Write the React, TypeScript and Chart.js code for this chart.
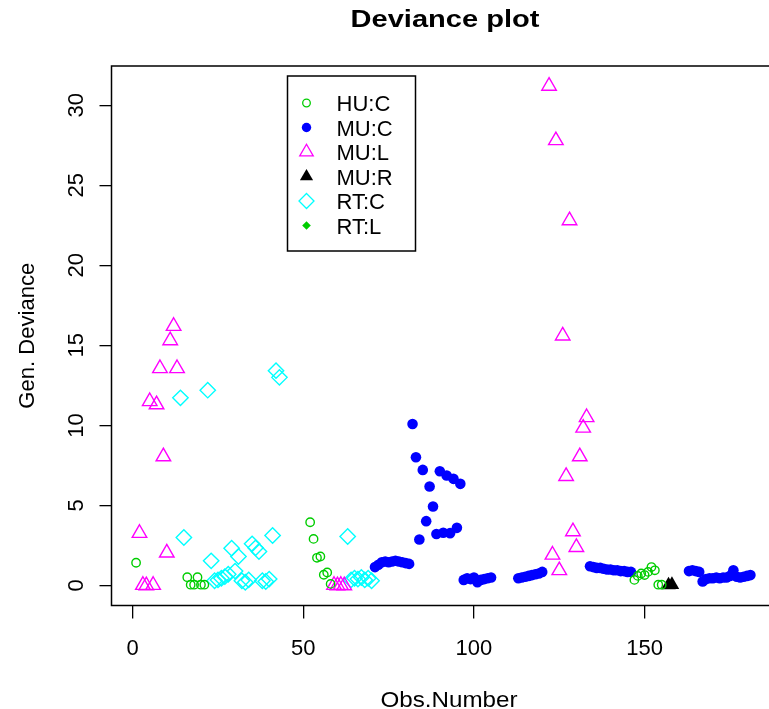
import React, { useEffect, useRef } from 'react';
import { Chart, registerables } from 'chart.js';

Chart.register(...registerables);

// ---------- data ----------
const TITLE = 'Deviance plot';
const X_LABEL = 'Obs.Number';
const Y_LABEL = 'Gen. Deviance';
const X_TICKS = [0, 50, 100, 150];
const Y_TICKS = [0, 5, 10, 15, 20, 25, 30];
const X_MIN = -6.2;
const X_MAX = 188.2;
const Y_MIN = -1.25;
const Y_MAX = 32.45;

const SERIES_NAMES = ['HU:C', 'MU:C', 'MU:L', 'MU:R', 'RT:C', 'RT:L'];

const HUC_X = [1, 16, 17, 18, 19, 20, 21, 52, 53, 54, 55, 56, 57, 58, 147, 148, 149, 150, 151, 152, 153, 154, 155];
const HUC_Y = [1.42, 0.52, 0.05, 0.05, 0.52, 0.05, 0.05, 3.95, 2.91, 1.73, 1.81, 0.67, 0.81, 0.1, 0.35, 0.6, 0.75, 0.65, 0.85, 1.15, 0.95, 0.05, 0.05];

const MUC_X = [
  71, 72, 73, 74, 75, 76, 77, 78, 79, 80, 81,
  82, 83, 84, 85, 86, 87, 88, 89, 90, 91, 92, 93, 94, 95, 96,
  97, 98, 99, 100, 101, 102, 103, 104, 105,
  113, 114, 115, 116, 117, 118, 119, 120,
  134, 135, 136, 137, 138, 139, 140, 141, 142, 143, 144, 145, 146,
  163, 164, 165, 166, 167, 168, 169, 170, 171, 172, 173, 174, 175, 176, 177, 178, 179, 180, 181,
];
const MUC_Y = [
  1.15, 1.3, 1.45, 1.5, 1.45, 1.5, 1.55, 1.5, 1.45, 1.4, 1.35,
  10.09, 8.01, 2.87, 7.22, 4.02, 6.18, 4.93, 3.22, 7.14, 3.29, 6.87, 3.27, 6.66, 3.6, 6.35,
  0.35, 0.45, 0.4, 0.5, 0.2, 0.35, 0.4, 0.45, 0.5,
  0.45, 0.5, 0.55, 0.6, 0.65, 0.7, 0.75, 0.85,
  1.2, 1.15, 1.1, 1.1, 1.05, 1.0, 1.0, 0.95, 0.95, 0.9, 0.9, 0.85, 0.85,
  0.9, 0.95, 0.9, 0.85, 0.25, 0.4, 0.45, 0.45, 0.5, 0.45, 0.5, 0.5, 0.6, 0.95, 0.55, 0.5, 0.55, 0.6, 0.65,
];

const MUL_X = [2, 3, 4, 5, 6, 7, 8, 9, 10, 11, 12, 13, 59, 60, 61, 62, 122, 123, 124, 125, 126, 127, 128, 129, 130, 131, 132, 133];
const MUL_Y = [3.27, 0.02, 0.0, 11.5, 0.02, 11.3, 13.56, 8.05, 2.04, 15.3, 16.2, 13.56, 0.02, 0.0, 0.02, 0.0, 31.2, 1.91, 27.8, 0.94, 15.6, 6.82, 22.8, 3.37, 2.39, 8.05, 9.84, 10.5];

const MUR_X = [157, 158];
const MUR_Y = [0.02, 0.05];

const RTC_X = [14, 15, 22, 23, 24, 25, 26, 27, 28, 29, 30, 31, 32, 33, 34, 35, 36, 37, 38, 39, 40, 41, 42, 43, 63, 64, 65, 66, 67, 68, 69, 70];
const RTC_Y = [11.72, 3.0, 12.2, 1.54, 0.3, 0.35, 0.45, 0.55, 0.7, 2.33, 0.9, 1.81, 0.3, 0.2, 0.35, 2.6, 2.35, 2.12, 0.3, 0.25, 0.4, 3.12, 13.42, 13.0, 3.06, 0.35, 0.45, 0.4, 0.5, 0.35, 0.45, 0.3];

const RTL_X: number[] = [];
const RTL_Y: number[] = [];

// ---------- styles ----------
const GREEN = '#00CD00';
const BLUE = '#0000FF';
const MAGENTA = '#FF00FF';
const CYAN = '#00FFFF';
const BLACK = '#000000';
const FONT = '"Liberation Sans", Arial, Helvetica, sans-serif';

type Sty = { style: string; r: number; color: string; filled: boolean; lw: number };
const STYLES: Sty[] = [
  { style: 'circle', r: 4.2, color: GREEN, filled: false, lw: 1.4 },
  { style: 'circle', r: 5.3, color: BLUE, filled: true, lw: 0 },
  { style: 'triangle', r: 8.4, color: MAGENTA, filled: false, lw: 1.4 },
  { style: 'triangle', r: 8.4, color: BLACK, filled: true, lw: 0 },
  { style: 'rectRot', r: 7.7, color: CYAN, filled: false, lw: 1.4 },
  { style: 'rectRot', r: 4.5, color: GREEN, filled: true, lw: 0 },
];
const LEGEND_STYLES: Sty[] = [
  { style: 'circle', r: 3.8, color: GREEN, filled: false, lw: 1.3 },
  { style: 'circle', r: 4.7, color: BLUE, filled: true, lw: 0 },
  { style: 'triangle', r: 7.8, color: MAGENTA, filled: false, lw: 1.3 },
  { style: 'triangle', r: 7.6, color: BLACK, filled: true, lw: 0 },
  { style: 'rectRot', r: 7.5, color: CYAN, filled: false, lw: 1.3 },
  { style: 'rectRot', r: 4.3, color: GREEN, filled: true, lw: 0 },
];

const zip = (xs: number[], ys: number[]) => xs.map((x, i) => ({ x, y: ys[i] }));

function drawText(
  ctx: CanvasRenderingContext2D,
  s: string,
  x: number,
  y: number,
  font: string,
  rot = 0,
  width = 0,
  align: CanvasTextAlign = 'center'
) {
  ctx.save();
  ctx.font = font;
  ctx.fillStyle = '#000';
  ctx.textAlign = align;
  ctx.textBaseline = 'alphabetic';
  ctx.translate(x, y);
  if (rot) ctx.rotate(rot);
  if (width) {
    const w = ctx.measureText(s).width;
    ctx.scale(width / w, 1);
  }
  ctx.fillText(s, 0, 0);
  ctx.restore();
}

function drawMarker(ctx: CanvasRenderingContext2D, st: Sty, x: number, y: number) {
  ctx.save();
  ctx.beginPath();
  const r = st.r;
  if (st.style === 'circle') {
    ctx.arc(x, y, r, 0, Math.PI * 2);
  } else if (st.style === 'triangle') {
    ctx.moveTo(x, y - r);
    ctx.lineTo(x + r * Math.sin((2 * Math.PI) / 3), y + r / 2);
    ctx.lineTo(x - r * Math.sin((2 * Math.PI) / 3), y + r / 2);
  } else {
    ctx.moveTo(x, y - r);
    ctx.lineTo(x + r, y);
    ctx.lineTo(x, y + r);
    ctx.lineTo(x - r, y);
  }
  ctx.closePath();
  if (st.filled) {
    ctx.fillStyle = st.color;
    ctx.fill();
  } else {
    ctx.strokeStyle = st.color;
    ctx.lineWidth = st.lw;
    ctx.stroke();
  }
  ctx.restore();
}

const decorPlugin = {
  id: 'rdecor',
  afterDraw(chart: any) {
    const ctx: CanvasRenderingContext2D = chart.ctx;
    const a = chart.chartArea;
    const xs = chart.scales.x;
    const ys = chart.scales.y;
    // plot box
    ctx.save();
    ctx.strokeStyle = '#000';
    ctx.lineWidth = 1.5;
    ctx.strokeRect(a.left, a.top, a.right - a.left, a.bottom - a.top);
    ctx.restore();

    // title & axis titles
    drawText(ctx, TITLE, 445, 27, `bold 23px ${FONT}`, 0, 189);
    drawText(ctx, X_LABEL, 449, 707, `22px ${FONT}`, 0, 137);
    drawText(ctx, Y_LABEL, 34, (a.top + a.bottom) / 2, `22px ${FONT}`, -Math.PI / 2, 146);

    // tick labels
    X_TICKS.forEach((v) => {
      drawText(ctx, String(v), xs.getPixelForValue(v), 655, `22px ${FONT}`);
    });
    Y_TICKS.forEach((v) => {
      drawText(ctx, String(v), 83, ys.getPixelForValue(v), `22px ${FONT}`, -Math.PI / 2);
    });

    // legend
    const lx = 287.5, ly = 76, lw = 128, lh = 175;
    ctx.save();
    ctx.fillStyle = '#fff';
    ctx.fillRect(lx, ly, lw, lh);
    ctx.strokeStyle = '#000';
    ctx.lineWidth = 1.5;
    ctx.strokeRect(lx, ly, lw, lh);
    ctx.restore();
    SERIES_NAMES.forEach((name, i) => {
      const rowY = 103 + i * 24.5;
      drawMarker(ctx, LEGEND_STYLES[i], 306.5, rowY);
      drawText(ctx, name, 336.5, rowY + 8, `22px ${FONT}`, 0, 0, 'left');
    });
  },
};

export default function App() {
  const ref = useRef<HTMLCanvasElement | null>(null);

  useEffect(() => {
    if (!ref.current) return;
    const series = [
      zip(HUC_X, HUC_Y),
      zip(MUC_X, MUC_Y),
      zip(MUL_X, MUL_Y),
      zip(MUR_X, MUR_Y),
      zip(RTC_X, RTC_Y),
      zip(RTL_X, RTL_Y),
    ];
    const datasets = series.map((data, i) => {
      const st = STYLES[i];
      return {
        label: SERIES_NAMES[i],
        data,
        showLine: false,
        pointStyle: st.style,
        pointRadius: st.r,
        pointBorderWidth: st.lw,
        pointBorderColor: st.filled ? 'rgba(0,0,0,0)' : st.color,
        pointBackgroundColor: st.filled ? st.color : 'rgba(0,0,0,0)',
        borderColor: st.color,
        backgroundColor: st.filled ? st.color : 'rgba(0,0,0,0)',
      };
    });

    const chart = new Chart(ref.current, {
      type: 'scatter',
      data: { datasets } as any,
      plugins: [decorPlugin],
      options: {
        responsive: false,
        animation: false,
        devicePixelRatio: 1,
        events: [],
        layout: { padding: { top: 66, right: 15, left: 0, bottom: 0 } },
        plugins: {
          legend: { display: false },
          title: { display: false },
          tooltip: { enabled: false },
        },
        scales: {
          x: {
            type: 'linear',
            position: 'bottom',
            min: X_MIN,
            max: X_MAX,
            afterBuildTicks: (s: any) => {
              s.ticks = X_TICKS.map((v) => ({ value: v }));
            },
            afterFit: (s: any) => {
              s.height = 103.5;
            },
            ticks: { display: false },
            grid: { drawOnChartArea: false, drawTicks: true, tickLength: 13, color: '#000', lineWidth: 1.3 },
            border: { display: false },
          },
          y: {
            type: 'linear',
            position: 'left',
            min: Y_MIN,
            max: Y_MAX,
            afterBuildTicks: (s: any) => {
              s.ticks = Y_TICKS.map((v) => ({ value: v }));
            },
            afterFit: (s: any) => {
              s.width = 111.5;
            },
            ticks: { display: false },
            grid: { drawOnChartArea: false, drawTicks: true, tickLength: 12, color: '#000', lineWidth: 1.3 },
            border: { display: false },
          },
        },
      } as any,
    });
    return () => chart.destroy();
  }, []);

  return (
    <div
      style={{
        position: 'fixed',
        left: 0,
        top: 0,
        width: 769,
        height: 709,
        overflow: 'hidden',
        background: '#fff',
      }}
    >
      <canvas ref={ref} width={790} height={709} style={{ display: 'block' }} />
    </div>
  );
}
